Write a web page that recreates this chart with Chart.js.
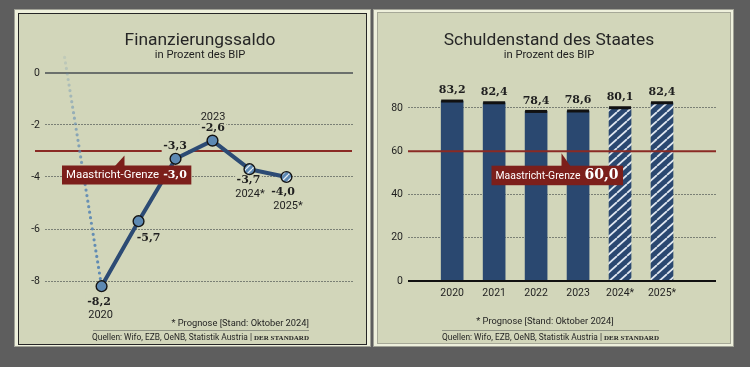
<!DOCTYPE html>
<html><head><meta charset="utf-8">
<script src="https://cdn.jsdelivr.net/npm/chart.js@4.4.1/dist/chart.umd.min.js"></script>
<style>
html,body{margin:0;padding:0}
body{width:750px;height:367px;background:#5e5e5e;position:relative;overflow:hidden;font-family:Roboto,sans-serif;color:#1f1f1f}
.box{position:absolute;box-sizing:border-box}
.t{position:absolute;white-space:nowrap;text-align:center}
canvas{position:absolute}
.ttl{font-size:17.4px;line-height:22px;color:#262626}
.sub{font-size:11.2px;line-height:14px}
.fn{font-size:9.3px;line-height:12px}
.src{font-size:8.4px;line-height:10px}
.std{font-family:"Liberation Serif",serif;font-weight:bold;font-size:7px}
.sep{position:absolute;height:1px;background:#8f9384}
</style></head><body>
<!-- left panel frame -->
<div class="box" style="left:14px;top:9px;width:357px;height:338px;border:1px solid #a0a196;background:#eef0dc"></div>
<div class="box" style="left:17.5px;top:12.5px;width:349px;height:332px;border:1.5px solid #262626;background:#d2d6ba"></div>
<!-- right panel frame -->
<div class="box" style="left:373px;top:9px;width:361px;height:338px;border:1px solid #a0a196;background:#eef0dc"></div>
<div class="box" style="left:376.5px;top:12px;width:354px;height:332px;border:1px solid #a6a897;background:#d2d6ba"></div>

<canvas id="left" width="350" height="332" style="left:18px;top:13px"></canvas>
<canvas id="right" width="354" height="332" style="left:377px;top:13px"></canvas>

<div class="t ttl" style="left:100px;width:200px;top:27.5px">Finanzierungssaldo</div>
<div class="t sub" style="left:100px;width:200px;top:48px">in Prozent des BIP</div>
<div class="t fn" style="left:100px;width:209px;top:316.5px;text-align:right">* Prognose [Stand: Oktober 2024]</div>
<div class="sep" style="left:92.5px;top:329.5px;width:216.5px"></div>
<div class="t src" style="left:50px;width:301px;top:331.5px">Quellen: Wifo, EZB, OeNB, Statistik Austria | <span class="std">DER STANDARD</span></div>

<div class="t ttl" style="left:429px;width:240px;top:27.5px">Schuldenstand des Staates</div>
<div class="t sub" style="left:449px;width:200px;top:48px">in Prozent des BIP</div>
<div class="t fn" style="left:445px;width:200px;top:315px">* Prognose [Stand: Oktober 2024]</div>
<div class="sep" style="left:441.5px;top:330px;width:217.5px"></div>
<div class="t src" style="left:400px;width:301px;top:332.3px">Quellen: Wifo, EZB, OeNB, Statistik Austria | <span class="std">DER STANDARD</span></div>

<script>
// ---------------- data ----------------
const balanceYears = [2020, 2021, 2022, 2023, 2024, 2025];
const balanceValues = [-8.2, -5.7, -3.3, -2.6, -3.7, -4.0];
const balanceYearLabels = ['2020', '', '', '2023', '2024*', '2025*'];
const preCrisisYear = 2019;
const preCrisisValue = 0.6;
const balanceTicks = [0, -2, -4, -6, -8];
const maastrichtDeficit = -3.0;

const debtYears = [2020, 2021, 2022, 2023, 2024, 2025];
const debtLabels = ['2020', '2021', '2022', '2023', '2024*', '2025*'];
const debtValues = [83.2, 82.4, 78.4, 78.6, 80.1, 82.4];
const debtTicks = [0, 20, 40, 60, 80];
const maastrichtDebt = 60.0;
const forecastFrom = 2024;
const maastrichtText = 'Maastricht-Grenze';

// ---------------- styles ----------------
const PANEL = '#d2d6ba', INK = '#1f1f1f', NAVY = '#2a4870', POINT = '#5d89b3',
      LINE = '#2c4b74', RED = '#8a2a24', BOX = '#7c1f1b', GRID = 'rgba(100,106,100,0.8)';
const SERIF_B = (s) => `bold ${s}px "DejaVu Serif", serif`;
const SANS = (s) => `${s}px Roboto, sans-serif`;
const fmt = (v) => v.toFixed(1).replace('.', ',');

// label offsets (px) relative to each point: v = value label, yr = year label
const balanceLabelOffsets = [
  {v: [-2.5, 15.5], yr: [-1, 29]},
  {v: [10, 17]},
  {v: [-0.5, -13]},
  {v: [0.5, -12.6], yr: [0.5, -23.8]},
  {v: [-1, 11.2], yr: [0.5, 25]},
  {v: [-3.4, 14.7], yr: [1.6, 29]}
];

function stripes(bg, fg, w, h, lw) {
  const c = document.createElement('canvas'); c.width = w; c.height = h;
  const x = c.getContext('2d');
  x.fillStyle = bg; x.fillRect(0, 0, w, h);
  x.strokeStyle = fg; x.lineWidth = lw; x.beginPath();
  for (let k = -1; k <= 1; k++) { x.moveTo(k * w, h); x.lineTo(k * w + w, 0); }
  x.stroke();
  return x.createPattern(c, 'repeat');
}
const barPattern = stripes(NAVY, '#dde5ee', 10, 9, 1.8);
const ptPattern = stripes(POINT, '#e4ecf2', 6, 6, 1.3);

function hline(ctx, x1, x2, y, color, w) {
  ctx.save(); ctx.strokeStyle = color; ctx.lineWidth = w;
  ctx.beginPath(); ctx.moveTo(x1, y); ctx.lineTo(x2, y); ctx.stroke(); ctx.restore();
}
function text(ctx, s, x, y, font, bg) {
  ctx.save();
  ctx.font = font; ctx.textAlign = 'center'; ctx.textBaseline = 'middle';
  if (bg) { const w = ctx.measureText(s).width; ctx.fillStyle = PANEL; ctx.fillRect(x - w / 2 - 1.5, y - 7, w + 3, 14); }
  ctx.fillStyle = INK; ctx.fillText(s, x, y);
  ctx.restore();
}
function maastricht(ctx, x0, top, h, redY, tFont, vFont, value, tri) {
  ctx.save();
  ctx.font = tFont; const tw = ctx.measureText(maastrichtText).width;
  ctx.font = vFont; const vw = ctx.measureText(value).width;
  const w = 4 + tw + 4 + vw + 4.5;
  ctx.fillStyle = BOX;
  ctx.fillRect(x0, top, w, h);
  ctx.beginPath(); tri.forEach((p, i) => { const px = x0 + p[0], py = p[1] === 'r' ? redY + p[2] : top + p[2]; i ? ctx.lineTo(px, py) : ctx.moveTo(px, py); });
  ctx.closePath(); ctx.fill();
  ctx.fillStyle = '#ffffff'; ctx.textBaseline = 'middle'; ctx.textAlign = 'left';
  ctx.font = tFont; ctx.fillText(maastrichtText, x0 + 4, top + h / 2 + 0.5);
  ctx.font = vFont; ctx.fillText(value, x0 + 8 + tw, top + h / 2);
  ctx.restore();
}

Chart.defaults.font.family = 'Roboto, sans-serif';
Chart.defaults.color = INK;

// ---------------- left: Finanzierungssaldo ----------------
const leftDecor = {
  id: 'leftDecor',
  beforeDatasetsDraw(ch) {
    const {ctx, chartArea: a, scales: {x, y}} = ch;
    hline(ctx, a.left, a.right, y.getPixelForValue(0), '#6b706c', 2);
    hline(ctx, a.left - 10, a.right - 1, y.getPixelForValue(maastrichtDeficit), RED, 2);
    balanceYears.forEach((yr, i) => {
      const px = x.getPixelForValue(yr), py = y.getPixelForValue(balanceValues[i]);
      const o = balanceLabelOffsets[i];
      text(ctx, fmt(balanceValues[i]), px + o.v[0], py + o.v[1], SERIF_B(11), true);
      if (o.yr && balanceYearLabels[i]) text(ctx, balanceYearLabels[i], px + o.yr[0], py + o.yr[1], SANS(11), false);
    });
  },
  afterDatasetsDraw(ch) {
    const {ctx, chartArea: a, scales: {y}} = ch;
    const ry = y.getPixelForValue(maastrichtDeficit);
    maastricht(ctx, a.left + 17, ry + 14.5, 19, ry, SANS(11.4), SERIF_B(11), fmt(maastrichtDeficit),
      [[53, 't', 0.5], [62.5, 't', 0.5], [62.5, 'r', 4.5]]);
  }
};

new Chart(document.getElementById('left'), {
  type: 'line',
  data: {
    datasets: [
      {
        data: balanceYears.map((x, i) => ({x, y: balanceValues[i]})),
        borderColor: LINE, borderWidth: 4, borderJoinStyle: 'round',
        pointRadius: 5.4, pointBorderWidth: 1.4, pointBorderColor: '#151515',
        pointBackgroundColor: balanceYears.map(y => y >= forecastFrom ? ptPattern : POINT),
        tension: 0
      },
      {
        data: [{x: preCrisisYear, y: preCrisisValue}, {x: balanceYears[0], y: balanceValues[0]}],
        borderColor: (c) => {
          const ch = c.chart; if (!ch.chartArea) return POINT;
          const ys = ch.scales.y;
          const g = ch.ctx.createLinearGradient(0, ys.getPixelForValue(preCrisisValue), 0, ys.getPixelForValue(balanceValues[0]));
          g.addColorStop(0, 'rgba(93,137,179,0.15)');
          g.addColorStop(0.3, 'rgba(93,137,179,0.6)');
          g.addColorStop(0.6, 'rgba(93,137,179,0.9)');
          g.addColorStop(1, 'rgba(93,137,179,1)');
          return g;
        },
        borderWidth: 3.2, borderDash: [0, 5.6], borderCapStyle: 'round', pointRadius: 0
      }
    ]
  },
  options: {
    responsive: false, animation: false, devicePixelRatio: 1,
    layout: {padding: {top: 41.8, bottom: 38, left: 0, right: 15}},
    plugins: {legend: {display: false}, tooltip: {enabled: false}},
    scales: {
      x: {type: 'linear', display: false, min: 2018.47, max: 2026.8},
      y: {
        min: -9, max: 0.7,
        afterFit(s) { s.width = 27; },
        afterBuildTicks(s) { s.ticks = balanceTicks.map(v => ({value: v})); },
        ticks: {padding: 5, font: {size: 10.5}, color: INK, callback: (v) => String(v)},
        grid: {color: GRID, lineWidth: 1, drawTicks: false, borderDash: [2, 1]},
        border: {display: false, dash: [2, 1]}
      }
    }
  },
  plugins: [leftDecor]
});

// ---------------- right: Schuldenstand ----------------
const rightDecor = {
  id: 'rightDecor',
  afterDatasetsDraw(ch) {
    const {ctx, chartArea: a, scales: {y}} = ch;
    const meta = ch.getDatasetMeta(0);
    meta.data.forEach((el, i) => {
      const p = el.getProps(['x', 'y', 'width'], true);
      ctx.fillStyle = '#111';
      ctx.fillRect(p.x - p.width / 2, p.y - 1.5, p.width, 3);
      text(ctx, fmt(debtValues[i]), p.x, p.y - 10.5, SERIF_B(11), false);
    });
    hline(ctx, a.left, a.right, y.getPixelForValue(0), '#111', 2);
    const ry = y.getPixelForValue(maastrichtDebt);
    hline(ctx, a.left, a.right, ry, RED, 2);
    maastricht(ctx, a.left + 83.5, ry + 14.5, 19.5, ry, SANS(10.4), SERIF_B(14), fmt(maastrichtDebt),
      [[70, 't', 0.5], [70, 'r', 2], [79, 't', 0.5]]);
  }
};

new Chart(document.getElementById('right'), {
  type: 'bar',
  data: {
    datasets: [{
      data: debtYears.map((x, i) => ({x, y: debtValues[i]})),
      backgroundColor: debtYears.map(y => y >= forecastFrom ? barPattern : NAVY),
      borderWidth: 0, barThickness: 22
    }]
  },
  options: {
    responsive: false, animation: false, devicePixelRatio: 1,
    layout: {padding: {top: 69, bottom: 0, left: 0, right: 15}},
    plugins: {legend: {display: false}, tooltip: {enabled: false}},
    scales: {
      x: {
        type: 'linear', min: 2019.559, max: 2025.675,
        afterFit(s) { s.height = 64; },
        afterBuildTicks(s) { s.ticks = debtYears.map(v => ({value: v})); },
        ticks: {autoSkip: false, maxRotation: 0, padding: 5.7, font: {size: 10.5}, color: INK,
          callback: (v) => debtLabels[debtYears.indexOf(v)] ?? ''},
        grid: {display: false, drawTicks: false},
        border: {display: false}
      },
      y: {
        min: 0, max: 92,
        afterFit(s) { s.width = 31; },
        afterBuildTicks(s) { s.ticks = debtTicks.map(v => ({value: v})); },
        ticks: {padding: 5, font: {size: 10.5}, color: INK},
        grid: {color: GRID, lineWidth: 1, drawTicks: false, borderDash: [2, 1]},
        border: {display: false, dash: [2, 1]}
      }
    }
  },
  plugins: [rightDecor]
});
</script>
</body></html>
